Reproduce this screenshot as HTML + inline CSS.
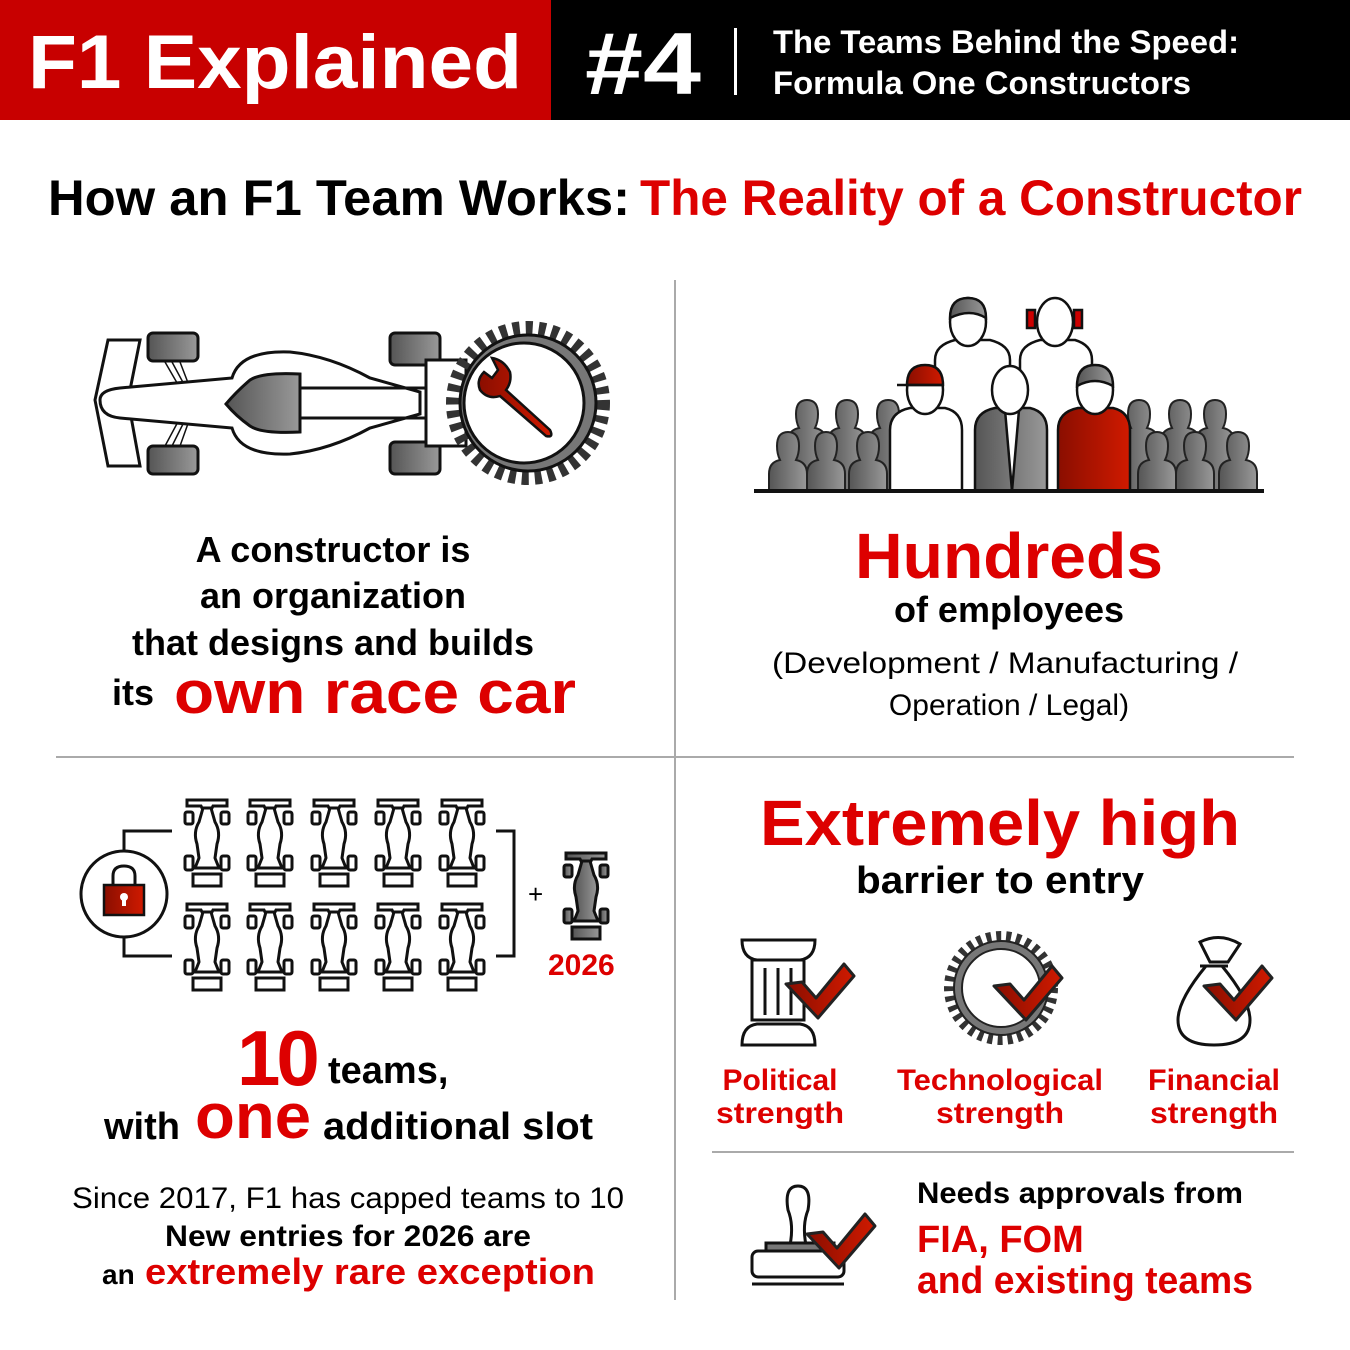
<!DOCTYPE html>
<html><head><meta charset="utf-8"><style>
html,body{margin:0;padding:0;background:#fff}
svg{display:block}
text{font-family:"Liberation Sans",sans-serif;font-weight:bold}
</style></head><body>
<svg width="1350" height="1350" viewBox="0 0 1350 1350" xmlns="http://www.w3.org/2000/svg">
<defs>
<linearGradient id="gg" x1="0" x2="1"><stop offset="0" stop-color="#555"/><stop offset="1" stop-color="#999"/></linearGradient>
<linearGradient id="rg" x1="0" x2="1"><stop offset="0" stop-color="#8a0e00"/><stop offset="1" stop-color="#d01a00"/></linearGradient>
<g id="car" fill="#fff" stroke="#111" stroke-width="3">
<path d="M2 2h40v6H28l-2 4h-8l-2-4H2z"/>
<rect x="0" y="14" width="8" height="12" rx="2"/><rect x="36" y="14" width="8" height="12" rx="2"/>
<rect x="0" y="58" width="8" height="14" rx="2"/><rect x="36" y="58" width="8" height="14" rx="2"/>
<path d="M18 10 L14 24 Q8 34 12 46 L14 60 L10 70 H34 L30 60 L32 46 Q36 34 30 24 L26 10z"/>
<rect x="8" y="76" width="28" height="12"/>
</g>
<g id="carg" fill="url(#gg)" stroke="#111" stroke-width="3">
<path d="M2 2h40v6H28l-2 4h-8l-2-4H2z"/>
<rect x="0" y="14" width="8" height="12" rx="2"/><rect x="36" y="14" width="8" height="12" rx="2"/>
<rect x="0" y="58" width="8" height="14" rx="2"/><rect x="36" y="58" width="8" height="14" rx="2"/>
<path d="M18 10 L14 24 Q8 34 12 46 L14 60 L10 70 H34 L30 60 L32 46 Q36 34 30 24 L26 10z"/>
<rect x="8" y="76" width="28" height="12"/>
</g>
<g id="pp" fill="url(#gg)" stroke="#222" stroke-width="2">
<path d="M-19 77 V28 Q-19 16 -8 14 Q-11 8 -11 0 Q-11 -14 0 -14 Q11 -14 11 0 Q11 8 8 14 Q19 16 19 28 V77z"/>
</g>
<g id="pp2" fill="url(#gg)" stroke="#222" stroke-width="2">
<path d="M-19 45 V28 Q-19 16 -8 14 Q-11 8 -11 0 Q-11 -14 0 -14 Q11 -14 11 0 Q11 8 8 14 Q19 16 19 28 V45z"/>
</g>
<g id="chk"><path d="M0 0 L16 -2 L30 14 L58 -20 L68 -8 L32 34z" fill="url(#rg)" stroke="#222" stroke-width="3" stroke-linejoin="round"/></g>
</defs>

<!-- header -->
<rect x="0" y="0" width="551" height="120" fill="#c80000"/>
<rect x="551" y="0" width="799" height="120" fill="#000"/>
<text x="28" y="88" font-size="76" fill="#fff" textLength="494" lengthAdjust="spacingAndGlyphs">F1 Explained</text>
<text x="585" y="94" font-size="88" fill="#fff" textLength="116" lengthAdjust="spacingAndGlyphs">#4</text>
<rect x="734" y="28" width="3" height="67" fill="#fff"/>
<text x="773" y="53" font-size="32" fill="#fff" textLength="466" lengthAdjust="spacingAndGlyphs">The Teams Behind the Speed:</text>
<text x="773" y="94" font-size="32" fill="#fff" textLength="418" lengthAdjust="spacingAndGlyphs">Formula One Constructors</text>

<text x="48" y="215" font-size="50" fill="#000" textLength="582" lengthAdjust="spacingAndGlyphs">How an F1 Team Works:</text>
<text x="640" y="215" font-size="50" fill="#d00" textLength="662" lengthAdjust="spacingAndGlyphs">The Reality of a Constructor</text>

<!-- dividers -->
<rect x="674" y="280" width="2" height="1020" fill="#aaa"/>
<rect x="56" y="756" width="1238" height="2" fill="#aaa"/>
<rect x="712" y="1151" width="582" height="2" fill="#aaa"/>

<!-- big car -->
<g stroke="#111" stroke-width="3">
<path d="M108 340 H140 L128 400 L140 466 H108 L95 400z" fill="#fff"/>
<g stroke-width="1.5"><path d="M165 362 L180 388 M172 362 L186 388 M180 362 L190 388 M165 446 L180 418 M172 446 L186 418 M180 446 L190 418"/></g>
<rect x="148" y="333" width="50" height="28" rx="5" fill="url(#gg)"/>
<rect x="148" y="446" width="50" height="28" rx="5" fill="url(#gg)"/>
<rect x="390" y="333" width="50" height="32" rx="5" fill="url(#gg)"/>
<rect x="390" y="442" width="50" height="32" rx="5" fill="url(#gg)"/>
<path d="M100 400 Q100 390 120 388 L232 378 Q240 350 290 352 Q330 356 370 378 L420 392 V414 L370 428 Q330 450 290 454 Q240 456 232 428 L120 418 Q100 416 100 400z" fill="#fff"/>
<path d="M250 380 Q262 372 300 374 V432 Q262 434 250 426 Q236 416 226 404 Q236 392 250 380z" fill="url(#gg)"/>
<path d="M300 388 H430 M300 418 H430" fill="none"/>
<rect x="426" y="360" width="40" height="86" fill="#fff"/>
<circle cx="528" cy="403" r="75" fill="none" stroke="#333" stroke-width="14" stroke-dasharray="7 6"/>
<circle cx="528" cy="403" r="68" fill="#777"/>
<circle cx="524" cy="403" r="60" fill="#fff"/>
<path d="M484 372 L492 378 L498 370 L492 358 Q504 360 510 372 Q512 382 506 390 L550 430 Q554 438 546 436 L500 396 Q488 400 480 390 Q476 380 484 372z" fill="url(#rg)" stroke-width="2.5"/>
</g>

<!-- people -->
<g>
<use href="#pp" x="807" y="414"/><use href="#pp" x="847" y="414"/><use href="#pp" x="888" y="414"/>
<use href="#pp" x="1139" y="414"/><use href="#pp" x="1180" y="414"/><use href="#pp" x="1215" y="414"/>
<use href="#pp2" x="788" y="446"/><use href="#pp2" x="826" y="446"/><use href="#pp2" x="868" y="446"/>
<use href="#pp2" x="1157" y="446"/><use href="#pp2" x="1195" y="446"/><use href="#pp2" x="1238" y="446"/>
<g stroke="#111" stroke-width="2.5">
<path d="M935 491 V360 Q935 345 955 340 H990 Q1010 345 1010 360 V491z" fill="#fff"/>
<ellipse cx="968" cy="322" rx="18" ry="24" fill="#fff"/><path d="M950 318 Q950 298 968 298 Q986 298 986 318 Q970 308 950 318z" fill="url(#gg)"/>
<path d="M1020 491 V360 Q1020 345 1040 340 H1075 Q1092 345 1092 360 V491z" fill="#fff"/>
<ellipse cx="1055" cy="322" rx="18" ry="24" fill="#fff"/>
<rect x="1027" y="310" width="8" height="18" fill="#c00"/><rect x="1074" y="310" width="8" height="18" fill="#c00"/>
<path d="M890 491 V430 Q890 412 910 408 H945 Q962 412 962 430 V491z" fill="#fff"/>
<ellipse cx="925" cy="390" rx="18" ry="24" fill="#fff"/><path d="M907 385 Q907 365 925 365 Q943 365 943 385z" fill="url(#rg)"/><path d="M897 385 H943"/>
<path d="M975 491 V430 Q975 412 995 408 H1030 Q1047 412 1047 430 V491z" fill="url(#gg)"/>
<path d="M1005 410 L1012 491 L1019 410" fill="#fff"/>
<ellipse cx="1010" cy="390" rx="18" ry="24" fill="#fff"/>
<path d="M1058 491 V430 Q1058 412 1078 408 H1113 Q1130 412 1130 430 V491z" fill="url(#rg)"/>
<ellipse cx="1095" cy="390" rx="18" ry="24" fill="#fff"/><path d="M1077 386 Q1077 365 1095 365 Q1113 365 1113 386 Q1095 376 1077 386z" fill="url(#gg)"/>
</g>
<rect x="754" y="489" width="510" height="4" fill="#111"/>
</g>

<!-- left top text -->
<g text-anchor="middle" font-size="36">
<text x="333" y="562">A constructor is</text>
<text x="333" y="608">an organization</text>
<text x="333" y="655">that designs and builds</text>
</g>
<text x="112" y="705" font-size="36">its</text>
<text x="174" y="713" font-size="60" fill="#d00" textLength="402" lengthAdjust="spacingAndGlyphs">own race car</text>

<!-- right top text -->
<g text-anchor="middle">
<text x="1009" y="578" font-size="64" fill="#d00" textLength="308" lengthAdjust="spacingAndGlyphs">Hundreds</text>
<text x="1009" y="622" font-size="36">of employees</text>
<text x="1005" y="673" font-size="30" style="font-weight:normal" textLength="466" lengthAdjust="spacingAndGlyphs">(Development / Manufacturing /</text>
<text x="1009" y="715" font-size="30" style="font-weight:normal">Operation / Legal)</text>
</g>

<!-- cars grid -->
<g>
<use href="#car" x="185" y="798"/><use href="#car" x="248" y="798"/><use href="#car" x="312" y="798"/><use href="#car" x="376" y="798"/><use href="#car" x="440" y="798"/>
<use href="#car" x="185" y="902"/><use href="#car" x="248" y="902"/><use href="#car" x="312" y="902"/><use href="#car" x="376" y="902"/><use href="#car" x="440" y="902"/>
<use href="#carg" x="564" y="851"/>
</g>
<path d="M172 831 H124 V852 M124 937 V956 H172" fill="none" stroke="#111" stroke-width="3"/>
<path d="M496 831 H514 V956 H496" fill="none" stroke="#111" stroke-width="3"/>
<circle cx="124" cy="894" r="43" fill="#fff" stroke="#111" stroke-width="3"/>
<path d="M113 885 V876 Q113 866 124 866 Q135 866 135 876 V885" fill="none" stroke="#111" stroke-width="3"/>
<rect x="104" y="885" width="40" height="30" fill="url(#rg)" stroke="#111" stroke-width="2.5"/>
<circle cx="124" cy="897" r="4" fill="#fff"/><rect x="122" y="897" width="4" height="9" fill="#fff"/>
<text x="528" y="903" font-size="26" style="font-weight:normal">+</text>
<text x="548" y="975" font-size="30" fill="#d00">2026</text>

<!-- bottom left text -->
<text x="237" y="1085" font-size="78" fill="#d00" letter-spacing="-4">10</text>
<text x="328" y="1083" font-size="38">teams,</text>
<text x="104" y="1139" font-size="38">with</text>
<text x="195" y="1138" font-size="64" fill="#d00" textLength="116" lengthAdjust="spacingAndGlyphs">one</text>
<text x="323" y="1139" font-size="38" textLength="270" lengthAdjust="spacingAndGlyphs">additional slot</text>
<g text-anchor="middle">
<text x="348" y="1208" font-size="30" style="font-weight:normal" textLength="552" lengthAdjust="spacingAndGlyphs">Since 2017, F1 has capped teams to 10</text>
<text x="348" y="1246" font-size="30" textLength="366" lengthAdjust="spacingAndGlyphs">New entries for 2026 are</text>
</g>
<text x="102" y="1284" font-size="28">an</text>
<text x="145" y="1284" font-size="36" fill="#d00" textLength="450" lengthAdjust="spacingAndGlyphs">extremely rare exception</text>

<!-- bottom right -->
<g text-anchor="middle">
<text x="1000" y="845" font-size="64" fill="#d00" textLength="480" lengthAdjust="spacingAndGlyphs">Extremely high</text>
<text x="1000" y="893" font-size="38" textLength="288" lengthAdjust="spacingAndGlyphs">barrier to entry</text>
<g font-size="30" fill="#d00">
<text x="780" y="1090">Political</text><text x="780" y="1123" textLength="128" lengthAdjust="spacingAndGlyphs">strength</text>
<text x="1000" y="1090" textLength="206" lengthAdjust="spacingAndGlyphs">Technological</text><text x="1000" y="1123" textLength="128" lengthAdjust="spacingAndGlyphs">strength</text>
<text x="1214" y="1090" textLength="132" lengthAdjust="spacingAndGlyphs">Financial</text><text x="1214" y="1123" textLength="128" lengthAdjust="spacingAndGlyphs">strength</text>
</g>
</g>
<!-- pillar -->
<g fill="#fff" stroke="#111" stroke-width="3">
<path d="M742 940 H815 Q815 958 800 960 H757 Q742 958 742 940z"/>
<rect x="752" y="960" width="52" height="60"/>
<path d="M765 968 V1015 M778 968 V1015 M791 968 V1015"/>
<path d="M757 1024 H800 Q815 1026 815 1045 H742 Q742 1026 757 1024z"/>
</g>
<use href="#chk" x="786" y="984"/>
<!-- gear -->
<circle cx="1001" cy="988" r="52" fill="none" stroke="#333" stroke-width="10" stroke-dasharray="5 5"/>
<circle cx="1001" cy="988" r="47" fill="#777" stroke="#222" stroke-width="2"/>
<circle cx="1001" cy="988" r="39" fill="#fff" stroke="#222" stroke-width="2"/>
<use href="#chk" x="994" y="986"/>
<!-- bag -->
<path d="M1200 942 Q1220 932 1240 944 L1228 962 H1210z M1200 966 H1228 M1206 966 Q1178 1000 1178 1020 Q1178 1045 1214 1045 Q1250 1045 1250 1020 Q1250 1000 1222 966" fill="#fff" stroke="#111" stroke-width="3"/>
<use href="#chk" x="1204" y="986"/>
<!-- stamp -->
<g stroke="#111" stroke-width="3" fill="#fff">
<path d="M790 1245 Q794 1225 788 1210 Q784 1186 798 1186 Q812 1186 808 1210 Q802 1225 806 1245z"/>
<rect x="766" y="1243" width="68" height="8" fill="#777"/>
<rect x="752" y="1251" width="92" height="26" rx="6"/>
<path d="M752 1284 H844"/>
</g>
<use href="#chk" x="807" y="1234"/>
<text x="917" y="1203" font-size="30" textLength="326" lengthAdjust="spacingAndGlyphs">Needs approvals from</text>
<text x="917" y="1252" font-size="38" fill="#d00">FIA, FOM</text>
<text x="917" y="1293" font-size="38" fill="#d00" textLength="336" lengthAdjust="spacingAndGlyphs">and existing teams</text>
</svg>
</body></html>
